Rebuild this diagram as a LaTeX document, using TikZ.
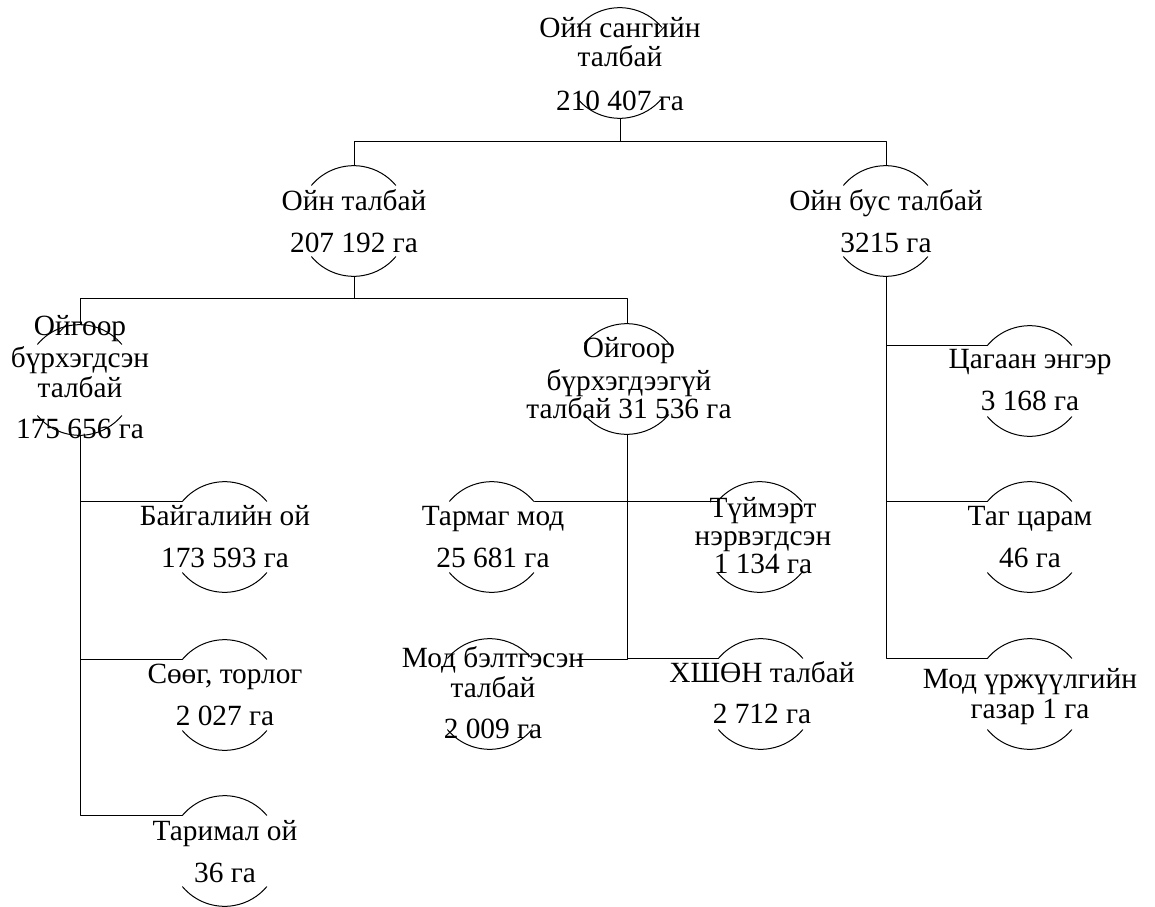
\documentclass[tikz,border=0pt]{standalone}
\usepackage{fontspec}
\setmainfont{Liberation Serif}
\newcommand\halves[1]{%
  \draw (#1.140) arc[start angle=140,end angle=40,radius=41.25pt]
        (#1.220) arc[start angle=220,end angle=320,radius=41.25pt];}

\begin{document}
\begin{tikzpicture}[line cap=round,line join=round,x=0.75pt,y=-0.75pt,line width=0.75pt,
    ring/.style={circle,minimum size=82.5pt,inner sep=0pt},
    lbl/.style={align=center,inner sep=0pt,anchor=base,font=\fontsize{22}{22.5}\selectfont}]
  \useasboundingbox (0,0) rectangle (1155,906);

  \node[ring] (root) at (620,63) {};
  \node[ring] (forest) at (354,221) {};
  \node[ring] (nonforest) at (886,221) {};
  \node[ring] (covered) at (80,380) {};
  \node[ring] (uncovered) at (627,379) {};
  \node[ring] (natural) at (225,537) {};
  \node[ring] (shrub) at (225,695) {};
  \node[ring] (planted) at (225,851) {};
  \node[ring] (sparse) at (492,537) {};
  \node[ring] (burnt) at (760,537) {};
  \node[ring] (logged) at (490,694) {};
  \node[ring] (saxaul) at (761,694) {};
  \node[ring] (glade) at (1030,381) {};
  \node[ring] (rock) at (1030,537) {};
  \node[ring] (nursery) at (1030,694) {};

  \foreach \n in {root,forest,nonforest,covered,uncovered,natural,shrub,planted,
                  sparse,burnt,logged,saxaul,glade,rock,nursery}
    {\halves{\n}}

  \node[lbl] (rootlbl) at (620,110) {Ойн сангийн\\талбай\\[9.75pt]210 407 га};
  \node[lbl] (forestlbl) at (354,252) {Ойн талбай\\[9pt]207 192 га};
  \node[lbl] (nonforestlbl) at (886,252) {Ойн бус талбай\\[9pt]3215 га};
  \node[lbl] (coveredlbl) at (80,438) {Ойгоор\\[1.5pt]бүрхэгдсэн\\талбай\\[8.25pt]175 656 га};
  \node[lbl] (uncoveredlbl) at (629,418) {Ойгоор\\[2.25pt]бүрхэгдээгүй\\[-1.5pt]талбай 31 536 га};
  \node[lbl] (naturallbl) at (225,567) {Байгалийн ой\\[9pt]173 593 га};
  \node[lbl] (shrublbl) at (225,725) {Сөөг, торлог\\[9pt]2 027 га};
  \node[lbl] (plantedlbl) at (225,882) {Таримал ой\\[9pt]36 га};
  \node[lbl] (sparselbl) at (493,567) {Тармаг мод\\[9pt]25 681 га};
  \node[lbl] (burntlbl) at (763,573) {Түймэрт\\[-1.5pt]нэрвэгдсэн\\[-1.5pt]1 134 га};
  \node[lbl] (loggedlbl) at (493,738) {Мод бэлтгэсэн\\талбай\\[8.25pt]2 009 га};
  \node[lbl] (saxaullbl) at (762,723) {ХШӨН талбай\\[8.25pt]2 712 га};
  \node[lbl] (gladelbl) at (1030,410) {Цагаан энгэр\\[9pt]3 168 га};
  \node[lbl] (rocklbl) at (1030,567) {Таг царам\\[9pt]46 га};
  \node[lbl] (nurserylbl) at (1030,718) {Мод үржүүлгийн\\газар 1 га};

  \coordinate (cut) at (577,659);

  \draw (root.south) -- ++(0,23) coordinate (split0);
  \draw (split0) -| (forest.north);
  \draw (split0) -| (nonforest.north);

  \draw (forest.south) -- ++(0,22) coordinate (split1);
  \draw (split1) -| (covered.north);
  \draw (split1) -| (uncovered.north);

  \draw (covered.south) |- (natural.140);
  \draw (covered.south) |- (shrub.140);
  \draw (covered.south) |- (planted.140);

  \draw (uncovered.south) |- (sparse.40);
  \draw (uncovered.south) |- (burnt.140);
  \draw (uncovered.south) |- (saxaul.140);
  \draw (uncovered.south) |- (cut);

  \draw (nonforest.south) |- (glade.140);
  \draw (nonforest.south) |- (rock.140);
  \draw (nonforest.south) |- (nursery.140);
\end{tikzpicture}
\end{document}
